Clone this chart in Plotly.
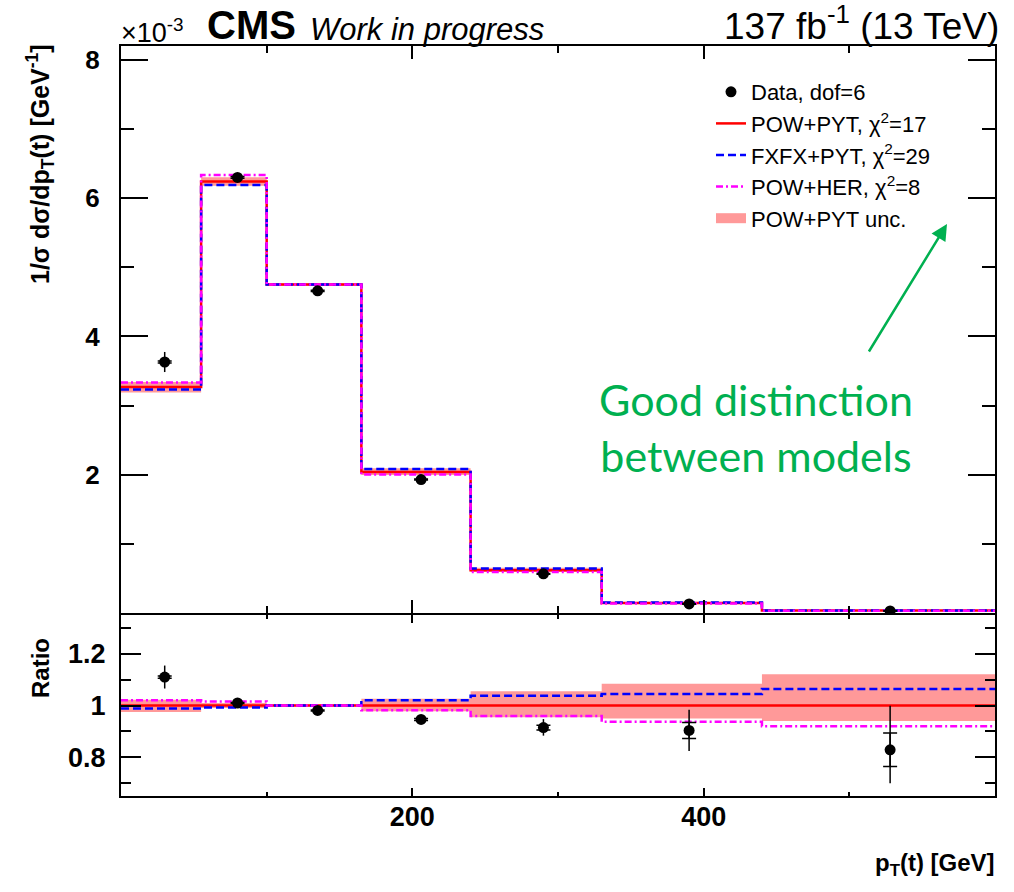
import plotly.graph_objects as go

# Binning of the top-quark transverse momentum [GeV]
bin_edges = [0, 55, 100, 165, 240, 330, 440, 600]
# Horizontal positions of the measured points [GeV]
data_x = [30, 80, 135, 206, 290, 390, 528]

# Normalised differential cross section, units of 1e-3 GeV^-1
data_vals = [3.63, 6.30, 4.66, 1.93, 0.567, 0.131, 0.029]
data_rel_err_up = [0.040, 0.006, 0.005, 0.008, 0.036, 0.089, 0.206]
data_rel_err_dn = [0.040, 0.006, 0.005, 0.008, 0.034, 0.088, 0.156]
data_rel_err_stat = [0.004, 0.002, 0.002, 0.004, 0.010, 0.034, 0.078]

pow_pyt = [3.27, 6.24, 4.75, 2.04, 0.620, 0.145, 0.0350]
fxfx_pyt = [3.231, 6.190, 4.750, 2.081, 0.6436, 0.1515, 0.03724]
pow_her = [3.335, 6.334, 4.750, 2.003, 0.5946, 0.1359, 0.0322]

# Relative model uncertainty of POW+PYT (up / down)
unc_up = [0.022, 0.010, 0.004, 0.026, 0.055, 0.084, 0.121]
unc_dn = [0.025, 0.010, 0.004, 0.022, 0.045, 0.050, 0.060]

legend_labels = ["Data, dof=6", "POW+PYT, χ<sup>2</sup>=17",
                 "FXFX+PYT, χ<sup>2</sup>=29", "POW+HER, χ<sup>2</sup>=8",
                 "POW+PYT unc."]

W, H = 1014, 892
X0, X1 = 121, 995          # frame left/right in px
Y_TOP, Y_MID, Y_BOT = 46, 613, 796

def px_x(p):
    return p / W

def px_y(p):
    return 1 - p / H

RED, BLUE, MAG, BAND, GREEN = "#ff0000", "#0000ff", "#ff00ff", "#ff9999", "#00b050"
FONT = "Liberation Sans"


def step(vals):
    return list(bin_edges), list(vals) + [vals[-1]]


def band_polygon(lo_vals, hi_vals):
    xs, yu, yl = [], [], []
    for a, b, u, l in zip(bin_edges[:-1], bin_edges[1:], hi_vals, lo_vals):
        xs += [a, b]
        yu += [u, u]
        yl += [l, l]
    return xs + xs[::-1], yu + yl[::-1]


fig = go.Figure()

ratio = {
    "pow": [1.0] * len(pow_pyt),
    "fxfx": [f / p for f, p in zip(fxfx_pyt, pow_pyt)],
    "her": [h / p for h, p in zip(pow_her, pow_pyt)],
    "data": [d / p for d, p in zip(data_vals, pow_pyt)],
}

line_styles = [
    ("pow", pow_pyt, RED, "solid", legend_labels[1], 2),
    ("fxfx", fxfx_pyt, BLUE, "8px,4px", legend_labels[2], 3),
    ("her", pow_her, MAG, "7px,3px,2px,3px", legend_labels[3], 4),
]

for panel, (xa, ya) in enumerate([("x", "y"), ("x2", "y2")]):
    main = panel == 0
    # uncertainty band
    if main:
        hi = [p * (1 + u) for p, u in zip(pow_pyt, unc_up)]
        lo = [p * (1 - d) for p, d in zip(pow_pyt, unc_dn)]
    else:
        hi = [1 + u for u in unc_up]
        lo = [1 - d for d in unc_dn]
    bx, by = band_polygon(lo, hi)
    fig.add_trace(go.Scatter(
        x=bx, y=by, fill="toself", fillcolor=BAND, mode="lines",
        line=dict(width=0, color=BAND), showlegend=False,
        xaxis=xa, yaxis=ya, hoverinfo="skip"))
    # model step lines
    for key, vals, col, dash, label, rank in line_styles:
        v = vals if main else ratio[key]
        sx, sy = step(v)
        fig.add_trace(go.Scatter(
            x=sx, y=sy, mode="lines", line_shape="hv",
            line=dict(color=col, width=2.5, dash=dash),
            name=label, showlegend=main, legendgroup=key, legendrank=rank,
            xaxis=xa, yaxis=ya))
    # data points: total uncertainty plus statistical ticks
    dv = data_vals if main else ratio["data"]
    fig.add_trace(go.Scatter(
        x=data_x, y=dv, mode="markers",
        marker=dict(color="black", size=1),
        error_y=dict(type="data", array=[v * e for v, e in zip(dv, data_rel_err_stat)],
                     color="black", thickness=1.5, width=7),
        showlegend=False, xaxis=xa, yaxis=ya))
    fig.add_trace(go.Scatter(
        x=data_x, y=dv, mode="markers",
        marker=dict(color="black", size=11),
        error_y=dict(type="data", symmetric=False,
                     array=[v * e for v, e in zip(dv, data_rel_err_up)],
                     arrayminus=[v * e for v, e in zip(dv, data_rel_err_dn)],
                     color="black", thickness=1.5, width=0),
        name=legend_labels[0], showlegend=main, legendgroup="data", legendrank=1,
        xaxis=xa, yaxis=ya))

# legend swatch for the uncertainty band
fig.add_trace(go.Scatter(
    x=[None], y=[None], mode="lines", line=dict(color=BAND, width=23),
    name=legend_labels[4], legendgroup="unc", legendrank=5, xaxis="x", yaxis="y"))

axis_common = dict(showline=True, linecolor="black", linewidth=2, mirror="ticks",
                   ticks="inside", tickcolor="black", tickwidth=2,
                   showgrid=False, zeroline=False)

fig.update_layout(
    width=W, height=H,
    margin=dict(l=0, r=0, t=0, b=0),
    paper_bgcolor="white", plot_bgcolor="white",
    xaxis=dict(domain=[px_x(X0), px_x(X1)], range=[0, 600], anchor="y",
               tickvals=[200, 400], ticklen=13, showticklabels=False,
               minor=dict(dtick=100, ticklen=7, tickcolor="black", tickwidth=2, ticks="inside"),
               **axis_common),
    yaxis=dict(domain=[px_y(Y_MID), px_y(Y_TOP)], range=[0, 8.2], anchor="x",
               tickvals=[2, 4, 6, 8], ticklen=27, ticklabelstandoff=14,
               tickfont=dict(family=FONT, size=26, color="black", weight="bold"),
               minor=dict(dtick=1, ticklen=13, tickcolor="black", tickwidth=2, ticks="inside"),
               **axis_common),
    xaxis2=dict(domain=[px_x(X0), px_x(X1)], range=[0, 600], anchor="y2", matches="x",
                tickvals=[200, 400], ticktext=["200", "400"], ticklen=8,
                ticklabelstandoff=-4,
                tickfont=dict(family=FONT, size=27, color="black", weight="bold"),
                minor=dict(dtick=100, ticklen=4, tickcolor="black", tickwidth=2, ticks="inside"),
                **axis_common),
    yaxis2=dict(domain=[px_y(Y_BOT), px_y(Y_MID + 2)], range=[0.65, 1.35], anchor="x2",
                tickvals=[0.8, 1.0, 1.2], ticktext=["0.8", "1", "1.2"], ticklen=20,
                ticklabelstandoff=8,
                tickfont=dict(family=FONT, size=27, color="black", weight="bold"),
                minor=dict(dtick=0.1, ticklen=10, tickcolor="black", tickwidth=2, ticks="inside"),
                **axis_common),
    legend=dict(x=px_x(711), y=px_y(71), xanchor="left", yanchor="top",
                bgcolor="rgba(0,0,0,0)", borderwidth=0,
                font=dict(family=FONT, size=22, color="black"),
                tracegroupgap=0, itemwidth=30, traceorder="normal"),
    showlegend=True,
)

annotations = [
    # header
    dict(text="×10<sup>-3</sup>", x=px_x(119), y=px_y(50), xanchor="left", yanchor="bottom",
         font=dict(family=FONT, size=27, color="black")),
    dict(text="<b>CMS</b>", x=px_x(205), y=px_y(49), xanchor="left", yanchor="bottom",
         font=dict(family=FONT, size=40, color="black")),
    dict(text="<i>Work in progress</i>", x=px_x(308), y=px_y(49), xanchor="left", yanchor="bottom",
         font=dict(family=FONT, size=31, color="black")),
    dict(text="137 fb<sup>-1</sup> (13 TeV)", x=px_x(1001), y=px_y(49), xanchor="right",
         yanchor="bottom", font=dict(family=FONT, size=37, color="black")),
    # axis titles
    dict(text="<b>1/σ dσ/dp<sub>T</sub>(t) [GeV<sup>-1</sup>]</b>", textangle=-90,
         x=px_x(40), y=px_y(42), xanchor="center", yanchor="top",
         font=dict(family=FONT, size=25, color="black")),
    dict(text="<b>Ratio</b>", textangle=-90, x=px_x(40), y=px_y(668),
         xanchor="center", yanchor="middle",
         font=dict(family=FONT, size=24, color="black")),
    dict(text="<b>p<sub>T</sub>(t) [GeV]</b>", x=px_x(997), y=px_y(864),
         xanchor="right", yanchor="middle",
         font=dict(family=FONT, size=24, color="black")),
    # comment text and arrow
    dict(text="Good distinction<br>between models", x=px_x(756), y=px_y(427),
         xanchor="center", yanchor="middle", align="center",
         font=dict(family="Lato", size=43, color=GREEN)),
    dict(text="", x=px_x(947), y=px_y(224), ax=-79, ay=129, showarrow=True,
         arrowcolor=GREEN, arrowwidth=2.5, arrowhead=2, arrowsize=1.3),
]
for a in annotations:
    a.setdefault("xref", "paper")
    a.setdefault("yref", "paper")
    a.setdefault("showarrow", False)
fig.update_layout(annotations=annotations)

fig.write_html("out.html")
